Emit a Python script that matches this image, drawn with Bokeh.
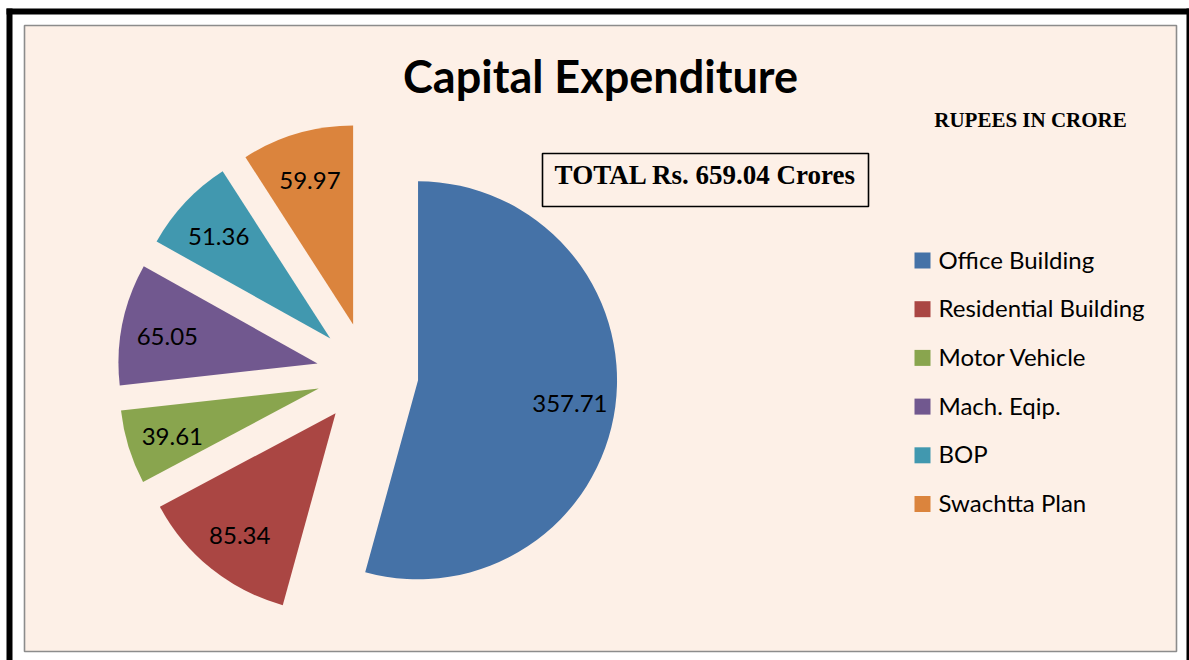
import math
from bokeh.plotting import figure
from bokeh.models import Range1d
from bokeh.core.properties import value
from bokeh.embed import file_html
from bokeh.resources import INLINE

# ---- data ----
categories = ["Office Building", "Residential Building", "Motor Vehicle",
              "Mach. Eqip.", "BOP", "Swachtta Plan"]
amounts = [357.71, 85.34, 39.61, 65.05, 51.36, 59.97]
labels = ["357.71", "85.34", "39.61", "65.05", "51.36", "59.97"]
colors = ["#4572A7", "#AA4643", "#89A54E", "#71588F", "#4198AF", "#DB843D"]
title_text = "Capital Expenditure"
unit_text = "RUPEES IN CRORE"
total_text = "TOTAL Rs. 659.04 Crores"

# ---- layout (pixel coordinates of the page, y measured downward) ----
W, H = 1189, 660
PAGE_H = 660


def Y(y):
    return PAGE_H - y


p = figure(width=W, height=H, output_backend="svg", toolbar_location=None,
           x_range=Range1d(0, W), y_range=Range1d(0, H),
           min_border=0, outline_line_color=None,
           background_fill_color="white", border_fill_color="white")
p.axis.visible = False
p.grid.visible = False

# outer black frame (left, top, right visible) and inner panel
p.quad(left=[6, 6, 1186], right=[12, 1189, 1189], bottom=[Y(660), Y(14), Y(660)],
       top=[Y(8), Y(8), Y(8)], fill_color="black", line_color=None)
p.quad(left=[24], right=[1176], top=[Y(25)], bottom=[Y(651)],
       fill_color="#FDF0E7", line_color="#8C8C8C", line_width=1.6)

# ---- exploded pie ----
cx, cy = 367, Y(373)
R = 199
EXPL = 51
total = sum(amounts)
theta = 0.0
wx, wy, sa, ea, lx, ly = [], [], [], [], [], []
for v in amounts:
    span = v / total * 2 * math.pi
    t1, t2 = theta, theta + span
    tm = (t1 + t2) / 2
    ox = cx + EXPL * math.sin(tm)
    oy = cy + EXPL * math.cos(tm)
    wx.append(ox)
    wy.append(oy)
    sa.append(math.pi / 2 - t2)
    ea.append(math.pi / 2 - t1)
    lx.append(ox + 0.77 * R * math.sin(tm))
    ly.append(oy + 0.77 * R * math.cos(tm) - 3)
    theta = t2

p.wedge(x=wx, y=wy, radius=R, start_angle=sa, end_angle=ea,
        fill_color=colors, line_color=None)
p.text(x=lx, y=ly, text=labels, text_align="center", text_baseline="middle",
       text_font=value("Lato"), text_font_size="24px", text_color="black")

# ---- titles ----
p.text(x=[600], y=[Y(75)], text=[title_text], text_align="center", text_baseline="middle",
       text_font=value("Lato"), text_font_style="bold", text_font_size="45px",
       text_color="black")
p.text(x=[1030], y=[Y(119)], text=[unit_text], text_align="center", text_baseline="middle",
       text_font=value("Liberation Serif"), text_font_style="bold", text_font_size="21px",
       text_color="black")

# total box
p.quad(left=[542], right=[868], top=[Y(153)], bottom=[Y(206)],
       fill_color=None, line_color="black", line_width=1.6)
p.text(x=[705], y=[Y(174)], text=[total_text], text_align="center", text_baseline="middle",
       text_font=value("Liberation Serif"), text_font_style="bold", text_font_size="27px",
       text_color="black")

# ---- legend ----
leg_y = [Y(260 + i * 48.7) for i in range(len(categories))]
p.rect(x=[922] * len(categories), y=leg_y, width=16, height=16,
       fill_color=colors, line_color=None)
p.text(x=[938] * len(categories), y=[v + 1.5 for v in leg_y], text=categories,
       text_align="left", text_baseline="middle", text_font=value("Lato"),
       text_font_size="24px", text_color="black")

open("out.html", "w").write(file_html(p, INLINE))
